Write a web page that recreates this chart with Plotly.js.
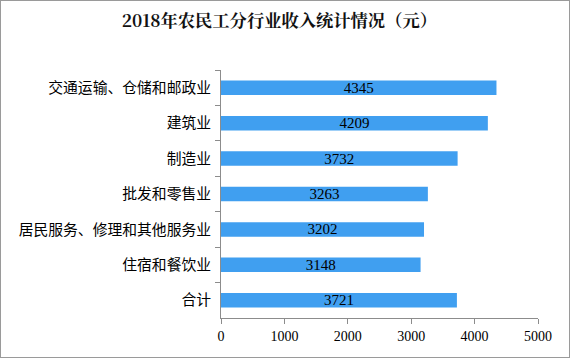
<!DOCTYPE html>
<html><head><meta charset="utf-8">
<script src="https://cdn.plot.ly/plotly-3.0.1.min.js"></script>
<style>
html,body{margin:0;padding:0;background:#fff;}
#wrap{width:570px;height:358px;box-sizing:border-box;border:1px solid #9a9a9a;overflow:hidden;}
#chart{width:568px;height:356px;}
</style></head>
<body><div id="wrap"><div id="chart"></div></div>
<script>
const categories = ["交通运输、仓储和邮政业","建筑业","制造业","批发和零售业","居民服务、修理和其他服务业","住宿和餐饮业","合计"];
const income = [4345,4209,3732,3263,3202,3148,3721];
const xTicks = [0,1000,2000,3000,4000,5000];

const num = '"Liberation Serif","DejaVu Serif",serif';

Plotly.newPlot('chart',[{
  type:'bar', orientation:'h',
  x: income, y: categories,
  marker:{color:'#409ff0'},
  text: income.map(String),
  textposition:'inside', insidetextanchor:'middle', constraintext:'none',
  textfont:{family:num,size:15,color:'#000'},
  hoverinfo:'none'
}],{
  width:568,height:356,
  margin:{l:219.7,r:30.7,t:68.5,b:39.3},
  paper_bgcolor:'#fff',plot_bgcolor:'#fff',
  bargap:0.59,
  showlegend:false,
  title:{text:'<b>2018年农民工分行业收入统计情况（元）</b>',x:0.49,xanchor:'center',y:0.945,yanchor:'middle',
    font:{family:'"Noto Serif CJK SC","Noto Sans CJK SC",serif',size:17.3,color:'#111'}},
  xaxis:{range:[0,5000],tickvals:xTicks,ticktext:xTicks.map(String),showgrid:false,zeroline:false,
    showline:true,linecolor:'#8c8c8c',linewidth:1,ticks:'outside',ticklen:5,tickcolor:'#8c8c8c',
    tickfont:{family:num,size:14,color:'#000'},fixedrange:true},
  yaxis:{autorange:'reversed',showgrid:false,zeroline:false,showline:true,linecolor:'#8c8c8c',linewidth:1,
    ticks:'outside',ticklen:5,tickcolor:'#8c8c8c',tickson:'boundaries',
    tickfont:{family:'"Noto Sans CJK SC",sans-serif',size:14.8,color:'#000'},ticklabelstandoff:6,fixedrange:true}
},{staticPlot:true,displayModeBar:false});
</script></body></html>
